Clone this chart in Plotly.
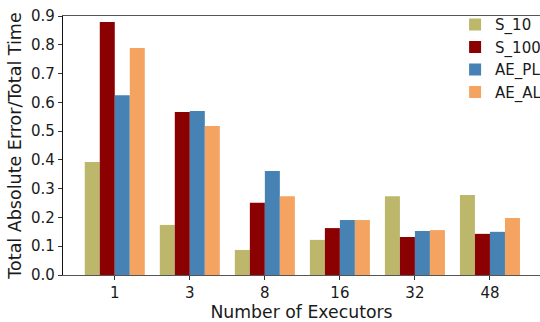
import plotly.graph_objects as go

categories = ["1", "3", "8", "16", "32", "48"]
series_names = ["S_10", "S_100", "AE_PL", "AE_AL"]
s_10 = [0.393, 0.174, 0.087, 0.122, 0.274, 0.278]
s_100 = [0.879, 0.566, 0.251, 0.163, 0.132, 0.143]
ae_pl = [0.625, 0.570, 0.361, 0.191, 0.153, 0.150]
ae_al = [0.789, 0.518, 0.274, 0.191, 0.156, 0.198]
colors = ["#BDB76B", "#8B0000", "#4682B4", "#F4A460"]
y_ticks = [0.0, 0.1, 0.2, 0.3, 0.4, 0.5, 0.6, 0.7, 0.8, 0.9]

FONT = "DejaVu Sans"
xpos = list(range(len(categories)))

fig = go.Figure()
for name, vals, c in zip(series_names, [s_10, s_100, ae_pl, ae_al], colors):
    fig.add_trace(go.Bar(x=xpos, y=vals, name=name, marker=dict(color=c, line=dict(width=0))))

fig.update_layout(
    width=540, height=322,
    margin=dict(l=63, r=0, t=16, b=47, autoexpand=False),
    paper_bgcolor="white", plot_bgcolor="white",
    barmode="group", bargap=0.2, bargroupgap=0,
    font=dict(family=FONT, color="#1a1a1a", size=14),
    legend=dict(x=0.822, y=1.03, xanchor="left", yanchor="top",
                font=dict(family=FONT, size=15), bgcolor="rgba(0,0,0,0)",
                borderwidth=0),
    xaxis=dict(range=[-0.69, 5.667], tickvals=xpos, ticktext=categories,
               showline=True, mirror=True, linecolor="#555555", linewidth=1.3,
               ticks="outside", ticklen=4, tickcolor="#333", showgrid=False, zeroline=False,
               tickfont=dict(size=15),
               title=dict(text="Number of Executors", font=dict(size=17.3), standoff=1)),
    yaxis=dict(range=[0, 0.9], tickvals=y_ticks, ticktext=[f"{v:.1f}" for v in y_ticks],
               showline=True, linecolor="#111111", linewidth=1.3,
               ticks="outside", ticklen=4, tickcolor="#333", showgrid=False, zeroline=False,
               tickfont=dict(size=15),
               title=dict(text="Total Absolute Error/Total Time", font=dict(size=17.5), standoff=4)),
)

fig.write_html("out.html")
